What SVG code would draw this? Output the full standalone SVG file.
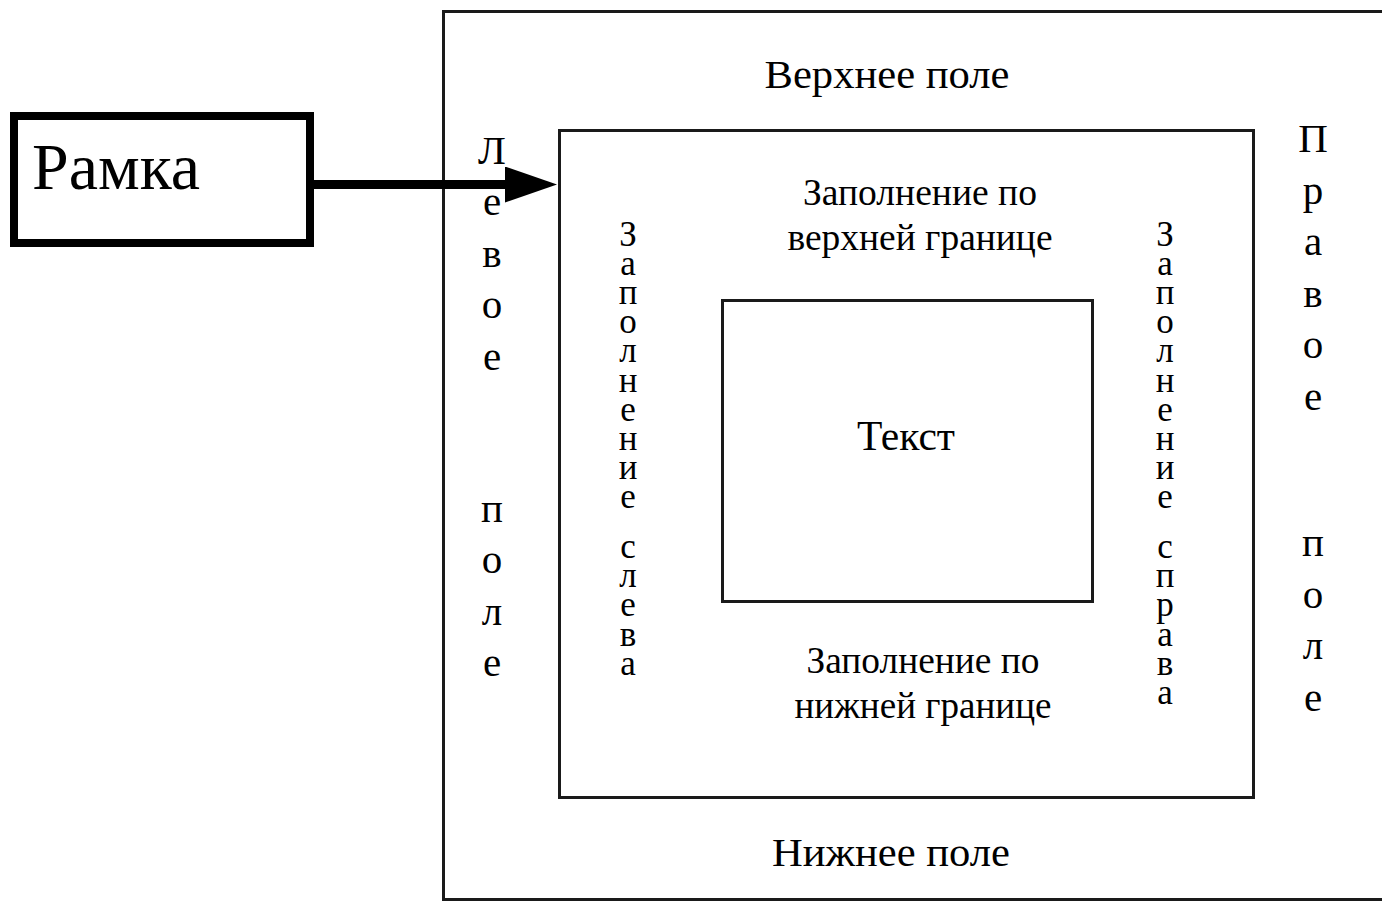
<svg xmlns="http://www.w3.org/2000/svg" width="1382" height="902" viewBox="0 0 1382 902">
<style>
  .frame { fill: none; stroke: #1a1a1a; stroke-width: 3; }
  .t { font-family: "Liberation Serif", "Times New Roman", serif; fill: #000; }
  .c { text-anchor: middle; }
  .big { font-size: 41px; }
  .mid { font-size: 37px; }
  .vert { writing-mode: vertical-rl; text-orientation: upright; }
  .vo { font-size: 41px; letter-spacing: 5.5px; }
  .vf { font-size: 35px; letter-spacing: -9.8px; }
</style>
<defs>
  <marker id="ah" markerUnits="userSpaceOnUse" markerWidth="52" markerHeight="36" refX="0" refY="18" orient="auto">
    <path d="M0,0 L52,18 L0,36 Z" fill="#000"/>
  </marker>
</defs>
<rect width="1382" height="902" fill="#fff"/>

<g id="outer-page">
  <rect class="frame" x="443.5" y="11.5" width="960" height="888"/>
  <text class="t big c" x="887" y="88" textLength="245" lengthAdjust="spacingAndGlyphs">Верхнее поле</text>
  <text class="t big c" x="891" y="866" textLength="238" lengthAdjust="spacingAndGlyphs">Нижнее поле</text>
  <text class="t vert vo" x="492" y="126.5">Левое</text>
  <text class="t vert vo" x="492" y="484.5">поле</text>
  <text class="t vert vo" x="1313" y="115">Правое</text>
  <text class="t vert vo" x="1313" y="519">поле</text>
</g>

<g id="frame-box">
  <rect class="frame" x="559.5" y="130.5" width="694" height="667"/>
  <text class="t mid c" x="920" y="205" textLength="234" lengthAdjust="spacingAndGlyphs">Заполнение по</text>
  <text class="t mid c" x="920" y="250" textLength="265" lengthAdjust="spacingAndGlyphs">верхней границе</text>
  <text class="t mid c" x="923" y="673" textLength="233" lengthAdjust="spacingAndGlyphs">Заполнение по</text>
  <text class="t mid c" x="923" y="718" textLength="257" lengthAdjust="spacingAndGlyphs">нижней границе</text>
  <text class="t vert vf" x="628" y="214.5">Заполнение</text>
  <text class="t vert vf" x="628" y="527">слева</text>
  <text class="t vert vf" x="1165" y="214.5">Заполнение</text>
  <text class="t vert vf" x="1165" y="527">справа</text>
</g>

<g id="text-box">
  <rect class="frame" x="722.5" y="300.5" width="370" height="301"/>
  <text class="t c" x="906" y="450" font-size="42" textLength="98" lengthAdjust="spacingAndGlyphs">Текст</text>
</g>

<g id="ramka">
  <rect x="14" y="116" width="296" height="127" fill="#fff" stroke="#000" stroke-width="8"/>
  <text class="t" x="32" y="189" font-size="66" textLength="168" lengthAdjust="spacingAndGlyphs">Рамка</text>
</g>

<g id="connectors">
  <line x1="314" y1="184.5" x2="505" y2="184.5" stroke="#000" stroke-width="9" marker-end="url(#ah)"/>
</g>
</svg>
